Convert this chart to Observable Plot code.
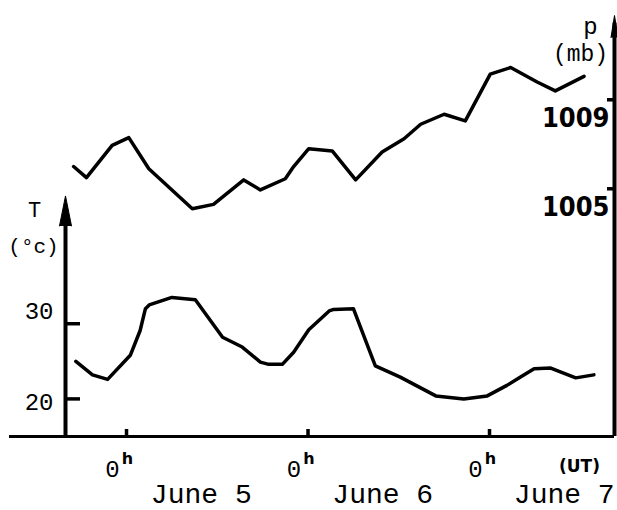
<!DOCTYPE html>
<html><head><meta charset="utf-8">
<script src="https://cdn.jsdelivr.net/npm/d3@7"></script>
<script src="https://cdn.jsdelivr.net/npm/@observablehq/plot@0.6"></script>
<style>
html,body{margin:0;padding:0;background:#fff;}
#chart svg{display:block;}
</style></head><body><div id="chart"></div>
<script>
// time in hours since 0h UT, June 5
const tempHours  = [-6.7, -4.5, -2.5, 0.5, 1.8, 2.5, 3.0, 6.0, 9.1, 12.7, 15.3, 17.7, 18.8, 20.6, 22.1, 24.1, 26.8, 27.4, 30.0, 32.9, 36.2, 40.9, 44.6, 47.7, 50.3, 52.1, 53.9, 56.1, 59.4, 61.8];
const tempValues = [25.0, 23.2, 22.6, 25.8, 29.1, 32.0, 32.5, 33.5, 33.2, 28.2, 26.9, 24.9, 24.6, 24.6, 26.2, 29.2, 31.7, 31.9, 32.0, 24.4, 22.9, 20.4, 20.0, 20.4, 21.8, 22.9, 24.0, 24.1, 22.8, 23.2];
const presHours  = [-7.0, -5.3, -1.9, 0.3, 2.95, 8.7, 11.5, 15.5, 17.7, 21.0, 22.1, 24.1, 27.2, 30.3, 33.8, 36.7, 38.9, 42.0, 44.8, 48.1, 50.8, 54.3, 56.7, 60.5];
const presValues = [1006.0, 1005.5, 1006.95, 1007.3, 1005.9, 1004.1, 1004.3, 1005.4, 1004.95, 1005.45, 1006.0, 1006.8, 1006.7, 1005.4, 1006.65, 1007.25, 1007.9, 1008.35, 1008.05, 1010.15, 1010.45, 1009.8, 1009.4, 1010.05];

const dayTicks = [0, 24, 48];
const dayTickText = "0";
const dayTickSup = "h";
const timeUnit = ["(UT)"];
const dateLabels = ["June 5", "June 6", "June 7"];
const tTicks = [20, 30];
const pTicks = [1005, 1009];
const tAxisLabel = ["T", "(°c)"];
const pAxisLabel = ["p", "(mb)"];

// chart frame (data units)
const xDomain = [-8.07, 64.53];
const yDomain = [15, 71];
const tAxisTop = 47;
const pAxisTop = 71;
// pressure drawn against the temperature scale
const pToY = d3.scaleLinear([1005, 1009], [47.95, 59.79]);

const temp = tempHours.map((h, i) => ({h, v: tempValues[i]}));
const pres = presHours.map((h, i) => ({h, v: pToY(presValues[i])}));

const mono = "'Liberation Mono', 'DejaVu Sans Mono', monospace";
const sans = "'DejaVu Sans', sans-serif";
const narrow = "'Liberation Sans Narrow', 'DejaVu Sans Condensed', 'DejaVu Sans', sans-serif";

const plot = Plot.plot({
  width: 617, height: 510,
  marginLeft: 65, marginRight: 3, marginTop: 15, marginBottom: 74,
  x: {domain: xDomain},
  y: {domain: yDomain},
  style: {background: "white", color: "black", fontFamily: mono},
  marks: [
    // baseline
    Plot.ruleY([yDomain[0]], {strokeWidth: 3, insetLeft: -56}),
    // temperature axis
    Plot.ruleX([xDomain[0]], {y1: yDomain[0], y2: tAxisTop - 2, strokeWidth: 4}),
    Plot.vector([tAxisTop], {x: xDomain[0], y: d => d, shape: "spike", length: 30, r: 6, anchor: "end", fill: "black", stroke: "black", strokeWidth: 1}),
    // pressure axis
    Plot.ruleX([xDomain[1]], {y1: yDomain[0], y2: pAxisTop - 1, strokeWidth: 4}),
    Plot.vector([pAxisTop], {x: xDomain[1], y: d => d, shape: "spike", length: 22, r: 3.5, anchor: "end", fill: "black", stroke: "black", strokeWidth: 1}),
    // ticks
    Plot.axisY(tTicks, {anchor: "left", tickSize: -15, strokeWidth: 3.5, fill: "none", label: null}),
    Plot.axisY(pTicks.map(pToY), {anchor: "right", tickSize: -8, strokeWidth: 3.5, fill: "none", label: null}),
    Plot.axisX(dayTicks, {anchor: "bottom", tickSize: -7, strokeWidth: 3.5, fill: "none", label: null}),
    // tick labels
    Plot.text(tTicks.filter(d => d === 30), {y: d => d, frameAnchor: "left", textAnchor: "end", lineAnchor: "middle", dx: -12, dy: -12, fontSize: 24, text: d => String(d)}),
    Plot.text(tTicks.filter(d => d === 20), {y: d => d, frameAnchor: "left", textAnchor: "end", lineAnchor: "middle", dx: -12, dy: 3, fontSize: 24, text: d => String(d)}),
    Plot.text(pTicks, {y: d => pToY(d), frameAnchor: "right", textAnchor: "end", lineAnchor: "middle", dx: -5, dy: 19, fontSize: 27, fontWeight: "bold", fontFamily: narrow, text: d => String(d)}),
    Plot.text(dayTicks, {x: d => d, frameAnchor: "bottom", textAnchor: "middle", lineAnchor: "middle", dx: -14, dy: 33, fontSize: 24, text: () => dayTickText}),
    Plot.text(dayTicks, {x: d => d, frameAnchor: "bottom", textAnchor: "middle", lineAnchor: "middle", dx: 1, dy: 22, fontSize: 16, fontWeight: "bold", fontFamily: sans, text: () => dayTickSup}),
    Plot.text(timeUnit, {frameAnchor: "bottom-right", textAnchor: "middle", lineAnchor: "middle", dx: -35, dy: 30, fontSize: 17, fontWeight: "bold", fontFamily: sans, text: d => d}),
    Plot.text(dateLabels, {x: (d, i) => 12 + 24 * i, frameAnchor: "bottom", textAnchor: "middle", lineAnchor: "middle", dx: -16, dy: 58, fontSize: 28, text: d => d}),
    // axis titles
    Plot.text(tAxisLabel, {x: xDomain[0], y: tAxisTop, textAnchor: "middle", lineAnchor: "middle", dx: -31, dy: 14, fontSize: 22, text: d => d, filter: (d, i) => i === 0}),
    Plot.text(tAxisLabel, {x: xDomain[0], y: tAxisTop, textAnchor: "middle", lineAnchor: "middle", dx: -32, dy: 50, fontSize: 21, text: d => d, filter: (d, i) => i === 1}),
    Plot.text(pAxisLabel, {x: xDomain[1], y: pAxisTop, textAnchor: "middle", lineAnchor: "middle", dx: -24, dy: 11, fontSize: 24, text: d => d, filter: (d, i) => i === 0}),
    Plot.text(pAxisLabel, {x: xDomain[1], y: pAxisTop, textAnchor: "middle", lineAnchor: "middle", dx: -34, dy: 38, fontSize: 23, text: d => d, filter: (d, i) => i === 1}),
    // data curves
    Plot.line(pres, {x: "h", y: "v", strokeWidth: 3.5, strokeLinejoin: "round", strokeLinecap: "round"}),
    Plot.line(temp, {x: "h", y: "v", strokeWidth: 3.5, strokeLinejoin: "round", strokeLinecap: "round"})
  ]
});
document.getElementById("chart").append(plot);
</script>
</body></html>
